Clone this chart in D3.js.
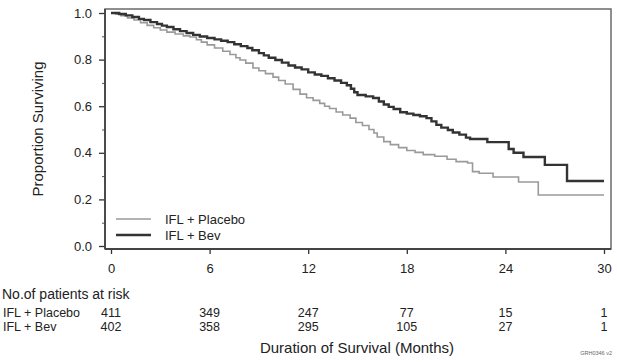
<!DOCTYPE html>
<html lang="en">
<head>
<meta charset="UTF-8"/>
<title>Kaplan-Meier survival: IFL + Placebo vs IFL + Bev</title>
<script src="https://d3js.org/d3.v7.min.js"></script>
<style>
    body { margin: 0; background: #fff; }
    svg { display: block; font-family: "Liberation Sans", Arial, sans-serif; }
</style>
</head>
<body>
<script>
    //survival curves as [month, proportion] step points
    var placeboCurve = [
        [0, 1.0], [0.3, 0.995], [0.6, 0.988], [1.0, 0.979], [1.4, 0.97], [1.8, 0.958],
        [2.2, 0.947], [2.6, 0.937], [3.0, 0.927], [3.4, 0.918], [3.9, 0.91], [4.4, 0.902],
        [4.8, 0.897], [5.2, 0.885], [5.5, 0.875], [5.85, 0.863], [6.3, 0.85], [6.8, 0.836],
        [7.24, 0.822], [7.6, 0.808], [7.85, 0.798], [8.2, 0.785], [8.64, 0.764], [9.0, 0.752],
        [9.4, 0.74], [9.86, 0.725], [10.2, 0.71], [10.6, 0.695], [11.08, 0.672], [11.5, 0.652],
        [11.9, 0.636], [12.3, 0.625], [12.7, 0.612], [13.0, 0.6], [13.3, 0.59], [13.7, 0.575],
        [14.1, 0.562], [14.55, 0.549], [14.9, 0.53], [15.3, 0.517], [15.7, 0.5], [16.0, 0.485],
        [16.2, 0.468], [16.6, 0.448], [17.0, 0.435], [17.5, 0.422], [18.0, 0.41], [18.5, 0.402],
        [19.0, 0.392], [19.7, 0.385], [20.45, 0.372], [21.0, 0.362], [21.7, 0.356], [22.0, 0.319],
        [22.4, 0.312], [23.25, 0.296], [24.8, 0.275], [26.0, 0.219], [30, 0.219]
    ];
    var bevCurve = [
        [0, 1.0], [0.5, 0.996], [0.9, 0.99], [1.3, 0.983], [1.7, 0.975], [2.0, 0.97],
        [2.4, 0.961], [2.8, 0.953], [3.1, 0.946], [3.4, 0.94], [3.8, 0.93], [4.2, 0.922],
        [4.6, 0.914], [5.0, 0.906], [5.4, 0.899], [5.85, 0.893], [6.3, 0.887], [6.7, 0.881],
        [7.1, 0.875], [7.5, 0.866], [7.9, 0.858], [8.3, 0.85], [8.6, 0.84], [9.0, 0.828],
        [9.3, 0.818], [9.6, 0.808], [10.0, 0.798], [10.4, 0.787], [10.8, 0.775], [11.2, 0.766],
        [11.6, 0.758], [12.0, 0.745], [12.4, 0.736], [12.8, 0.73], [13.2, 0.72], [13.6, 0.71],
        [14.0, 0.7], [14.35, 0.69], [14.6, 0.675], [14.8, 0.66], [15.0, 0.648], [15.5, 0.642],
        [15.95, 0.635], [16.3, 0.62], [16.6, 0.607], [16.9, 0.597], [17.2, 0.588], [17.6, 0.574],
        [18.0, 0.568], [18.4, 0.562], [18.8, 0.557], [19.2, 0.549], [19.5, 0.535], [19.8, 0.52],
        [20.1, 0.508], [20.5, 0.498], [20.8, 0.487], [21.2, 0.478], [21.6, 0.465], [21.85, 0.459],
        [22.9, 0.446], [24.2, 0.416], [24.5, 0.40], [25.1, 0.382], [26.4, 0.348], [27.75, 0.279],
        [30, 0.279]
    ];

    //tick values
    var xTicks = [0, 6, 12, 18, 24, 30];
    var yTicks = [0, 0.2, 0.4, 0.6, 0.8, 1.0];
    var yMinorTicks = [0.1, 0.3, 0.5, 0.7, 0.9];

    //patients at risk table
    var riskTimes = [0, 6, 12, 18, 24, 30];
    var riskPlacebo = [411, 349, 247, 77, 15, 1];
    var riskBev = [402, 358, 295, 105, 27, 1];

    var seriesNames = ["IFL + Placebo", "IFL + Bev"];

    //dimensions
    var w = 617;
    var h = 362;
    var frame = { left: 105, right: 611, top: 9, bottom: 249 };

    var xScale = d3.scaleLinear().domain([0, 30]).range([111, 604]);
    var yScale = d3.scaleLinear().domain([0, 1]).range([246, 13]);

    var svg = d3.select("body")
        .append("svg")
        .attr("width", w)
        .attr("height", h);

    //plot frame
    svg.append("rect")
        .attr("x", frame.left)
        .attr("y", frame.top)
        .attr("width", frame.right - frame.left)
        .attr("height", frame.bottom - frame.top)
        .attr("fill", "none")
        .attr("stroke", "#6a6a6a")
        .attr("stroke-width", 1.5);

    //y axis, major ticks with labels
    var yAxis = svg.append("g")
        .attr("transform", "translate(" + frame.left + ",0)")
        .call(d3.axisLeft(yScale).tickValues(yTicks).tickSize(6).tickPadding(7)
            .tickFormat(d3.format(".1f")));
    yAxis.select(".domain").remove();
    yAxis.selectAll("line").attr("stroke", "#333").attr("stroke-width", 1.3);
    yAxis.selectAll("text").attr("font-size", "13px").attr("fill", "#222")
        .attr("font-family", "'Liberation Sans', Arial, sans-serif");

    //y axis minor ticks
    var yMinor = svg.append("g")
        .attr("transform", "translate(" + frame.left + ",0)")
        .call(d3.axisLeft(yScale).tickValues(yMinorTicks).tickSize(3).tickFormat(""));
    yMinor.select(".domain").remove();
    yMinor.selectAll("line").attr("stroke", "#555").attr("stroke-width", 1);

    //x axis
    var xAxis = svg.append("g")
        .attr("transform", "translate(0," + frame.bottom + ")")
        .call(d3.axisBottom(xScale).tickValues(xTicks).tickSize(5).tickPadding(10));
    xAxis.select(".domain").remove();
    xAxis.selectAll("line").attr("stroke", "#333").attr("stroke-width", 1.3);
    xAxis.selectAll("text").attr("font-size", "13px").attr("fill", "#222")
        .attr("font-family", "'Liberation Sans', Arial, sans-serif");

    //darker left and bottom axis lines
    svg.append("line")
        .attr("x1", frame.left).attr("x2", frame.left)
        .attr("y1", frame.top).attr("y2", frame.bottom)
        .attr("stroke", "#444").attr("stroke-width", 1.8);
    svg.append("line")
        .attr("x1", frame.left).attr("x2", frame.right)
        .attr("y1", frame.bottom).attr("y2", frame.bottom)
        .attr("stroke", "#444").attr("stroke-width", 1.8);

    //survival step lines
    var line = d3.line()
        .x(function (d) { return xScale(d[0]); })
        .y(function (d) { return yScale(d[1]); })
        .curve(d3.curveStepAfter);

    svg.append("path")
        .datum(placeboCurve)
        .attr("d", line)
        .attr("fill", "none")
        .attr("stroke", "#9a9a9a")
        .attr("stroke-width", 1.6);

    svg.append("path")
        .datum(bevCurve)
        .attr("d", line)
        .attr("fill", "none")
        .attr("stroke", "#333")
        .attr("stroke-width", 2.4);

    //legend
    var legend = svg.append("g");
    var legendColors = ["#9a9a9a", "#333"];
    var legendWidths = [1.6, 2.6];
    seriesNames.forEach(function (name, i) {
        var ly = 219 + i * 16;
        legend.append("line")
            .attr("x1", 116).attr("x2", 151)
            .attr("y1", ly).attr("y2", ly)
            .attr("stroke", legendColors[i])
            .attr("stroke-width", legendWidths[i]);
        legend.append("text")
            .attr("x", 165)
            .attr("y", ly + 5)
            .attr("font-size", "13px")
            .attr("fill", "#222")
            .text(name);
    });

    //axis titles
    svg.append("text")
        .attr("transform", "translate(43,129) rotate(-90)")
        .attr("text-anchor", "middle")
        .attr("font-size", "15px")
        .attr("fill", "#222")
        .text("Proportion Surviving");

    svg.append("text")
        .attr("x", 357)
        .attr("y", 353)
        .attr("text-anchor", "middle")
        .attr("font-size", "15px")
        .attr("fill", "#222")
        .text("Duration of Survival (Months)");

    //patients at risk table
    svg.append("text")
        .attr("x", 2)
        .attr("y", 299)
        .attr("font-size", "14px")
        .attr("fill", "#222")
        .text("No.of patients at risk");

    var riskRows = [riskPlacebo, riskBev];
    riskRows.forEach(function (row, i) {
        var ry = 317 + i * 14;
        svg.append("text")
            .attr("x", 3)
            .attr("y", ry)
            .attr("font-size", "12.5px")
            .attr("fill", "#222")
            .text(seriesNames[i]);
        svg.selectAll(null)
            .data(row)
            .enter()
            .append("text")
            .attr("x", function (d, j) { return xScale(riskTimes[j]); })
            .attr("y", ry)
            .attr("text-anchor", "middle")
            .attr("font-size", "12.5px")
            .attr("fill", "#222")
            .text(function (d) { return d; });
    });

    //figure code
    svg.append("text")
        .attr("x", 612)
        .attr("y", 355)
        .attr("text-anchor", "end")
        .attr("font-size", "5.5px")
        .attr("fill", "#666")
        .text("GRH0346 v2");
</script>
</body>
</html>
